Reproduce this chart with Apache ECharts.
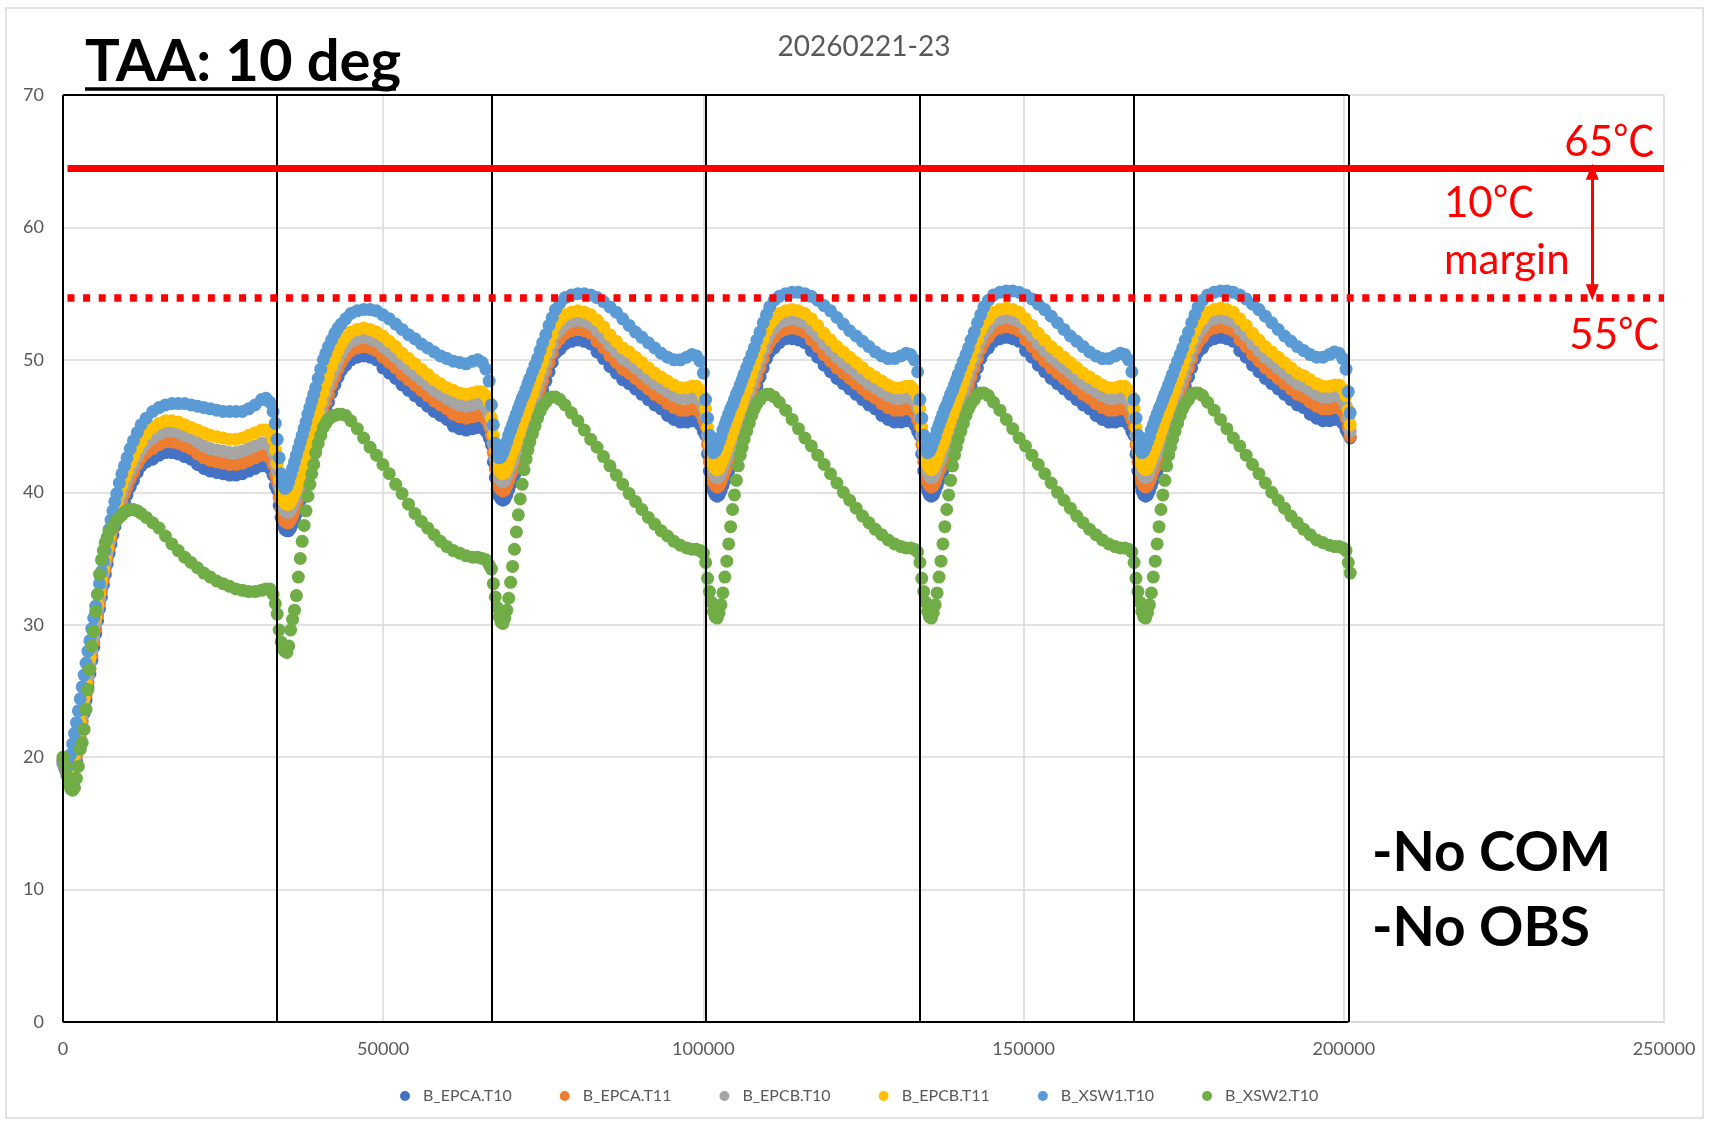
<!DOCTYPE html>
<html><head><meta charset="utf-8">
<script src="https://cdn.jsdelivr.net/npm/echarts@6.0.0/dist/echarts.min.js"></script>
<style>html,body{margin:0;padding:0;background:#fff}#chart{width:1709px;height:1124px}</style>
</head><body><div id="chart"></div>
<script>
// ---------------- data ----------------
const seriesNames = ['B_EPCA.T10','B_EPCA.T11','B_EPCB.T10','B_EPCB.T11','B_XSW1.T10','B_XSW2.T10'];
const seriesColors = ['#4472C4','#ED7D31','#A5A5A5','#FFC000','#5B9BD5','#70AD47'];
const xTicks = [0, 50000, 100000, 150000, 200000, 250000];
const yTicks = [0, 10, 20, 30, 40, 50, 60, 70];
// black cycle separators (time, s)
const boundaries = [0, 33450, 66900, 100350, 133800, 167250, 200700];
// sample times of the first cycle (absolute)
const tCycle1 = [0,300,600,900,1200,1500,1800,2100,2400,2700,3000,3300,3600,3900,4200,4500,4800,5100,5400,5700,6000,6300,6600,6900,7200,7500,7800,8100,8400,8800,9200,9600,10000,10500,11000,11600,12200,13000,14000,15000,16000,17000,18000,19000,20000,21000,22000,23000,24000,25000,26000,27000,28000,29000,30000,31000,31700,32300,32800,33150];
// sample times inside cycles 2..6 (relative to the cycle's separator)
const tRel = [0,300,600,900,1200,1500,1800,2100,2400,2700,3000,3300,3600,3900,4200,4500,4800,5100,5400,5700,6000,6400,6800,7200,7600,8000,8500,9000,9500,10000,10700,11500,12500,13500,14500,15500,16500,17500,18500,19500,20500,21500,22500,23500,24500,25500,26500,27500,28500,29500,30500,31300,32000,32600,33100];
const tTail = [200700, 201000];

const EPCA_T10 = [
19.5,19.1,18.8,18.7,18.9,19.0,19.3,19.7,20.5,21.4,22.3,23.3,24.3,25.3,26.3,27.3,28.3,29.3,30.3,31.2,32.1,33.0,33.8,34.6,35.4,36.1,36.8,37.4,38.0,38.4,38.7,39.3,39.8,40.4,40.9,41.5,42.0,42.3,42.5,42.8,43.0,43.0,42.9,42.7,42.5,42.1,41.8,41.6,41.5,41.4,41.3,41.3,41.4,41.6,41.8,42.0,42.0,41.8,41.3,40.5,
40.2,39.0,38.1,37.5,37.2,37.1,37.1,37.3,37.6,38.0,38.4,38.9,39.4,39.9,40.4,40.9,41.4,41.9,42.4,42.9,43.4,44.1,44.8,45.5,46.2,46.8,47.5,48.1,48.7,49.2,49.6,50.0,50.2,50.3,50.2,50.0,49.4,49.0,48.6,48.1,47.7,47.3,46.9,46.5,46.1,45.8,45.5,45.0,44.8,44.7,44.8,44.9,44.9,44.6,44.1,
43.6,42.3,41.1,40.2,39.7,39.5,39.4,39.5,39.8,40.2,40.6,40.9,41.3,41.7,42.2,42.6,43.1,43.5,43.9,44.3,44.8,45.3,45.9,46.5,47.1,47.7,48.4,49.1,49.8,50.5,50.8,51.2,51.4,51.5,51.4,51.2,50.6,50.1,49.5,49.0,48.5,48.2,47.8,47.4,47.0,46.6,46.3,45.8,45.5,45.3,45.3,45.4,45.4,45.1,44.6,
44.3,42.9,41.6,40.6,40.1,39.8,39.7,39.8,40.1,40.5,40.9,41.2,41.6,42.0,42.5,42.9,43.4,43.8,44.2,44.6,45.1,45.6,46.2,46.8,47.4,48.0,48.7,49.4,50.1,50.6,50.9,51.3,51.6,51.6,51.5,51.3,50.7,50.2,49.6,49.1,48.6,48.2,47.8,47.4,47.0,46.6,46.3,45.8,45.5,45.3,45.3,45.4,45.4,45.1,44.6,
44.3,42.9,41.6,40.6,40.1,39.8,39.7,39.8,40.1,40.5,40.9,41.2,41.6,42.0,42.5,42.9,43.4,43.8,44.2,44.6,45.1,45.6,46.2,46.8,47.4,48.0,48.7,49.4,50.1,50.6,50.9,51.4,51.6,51.7,51.6,51.4,50.7,50.2,49.6,49.1,48.6,48.2,47.8,47.4,47.0,46.6,46.3,45.8,45.5,45.3,45.3,45.4,45.4,45.1,44.6,
44.3,42.9,41.6,40.6,40.1,39.8,39.7,39.8,40.1,40.5,40.9,41.2,41.6,42.0,42.5,42.9,43.4,43.8,44.2,44.6,45.1,45.6,46.2,46.8,47.4,48.0,48.7,49.4,50.1,50.6,50.9,51.4,51.6,51.7,51.6,51.4,50.7,50.2,49.6,49.1,48.6,48.2,47.8,47.4,47.0,46.6,46.4,45.9,45.6,45.4,45.4,45.5,45.5,45.2,44.7,
44.4,44.1];

const EPCA_T11 = [
19.6,19.2,18.9,18.8,19.0,19.2,19.6,20.1,20.9,21.8,22.7,23.7,24.7,25.7,26.7,27.7,28.7,29.7,30.7,31.6,32.5,33.4,34.2,35.0,35.8,36.5,37.2,37.8,38.4,38.9,39.3,39.9,40.4,41.0,41.5,42.1,42.6,43.0,43.3,43.6,43.8,43.8,43.7,43.5,43.3,42.9,42.6,42.4,42.3,42.2,42.1,42.1,42.2,42.4,42.6,42.8,42.8,42.6,42.1,41.3,
40.8,39.6,38.7,38.1,37.8,37.7,37.7,37.9,38.2,38.6,39.0,39.5,40.0,40.5,41.0,41.5,42.0,42.5,43.0,43.5,44.0,44.7,45.4,46.1,46.8,47.4,48.1,48.7,49.3,49.8,50.3,50.7,50.9,51.0,50.9,50.7,50.2,49.8,49.4,48.9,48.5,48.1,47.7,47.3,46.9,46.6,46.3,45.9,45.7,45.6,45.7,45.8,45.8,45.5,45.0,
44.3,43.0,41.8,40.9,40.4,40.2,40.1,40.2,40.5,40.9,41.3,41.6,42.0,42.4,42.9,43.3,43.8,44.2,44.6,45.0,45.5,46.0,46.6,47.2,47.8,48.4,49.1,49.8,50.5,51.2,51.6,52.0,52.2,52.3,52.2,52.0,51.4,50.9,50.3,49.8,49.3,49.0,48.6,48.2,47.8,47.4,47.1,46.7,46.4,46.2,46.2,46.3,46.3,46.0,45.5,
45.0,43.6,42.3,41.3,40.8,40.5,40.4,40.5,40.8,41.2,41.6,41.9,42.3,42.7,43.2,43.6,44.1,44.5,44.9,45.3,45.8,46.3,46.9,47.5,48.1,48.7,49.4,50.1,50.8,51.3,51.7,52.1,52.3,52.4,52.3,52.1,51.5,51.0,50.4,49.9,49.4,49.0,48.6,48.2,47.8,47.4,47.1,46.7,46.4,46.2,46.2,46.3,46.3,46.0,45.5,
45.0,43.6,42.3,41.3,40.8,40.5,40.4,40.5,40.8,41.2,41.6,41.9,42.3,42.7,43.2,43.6,44.1,44.5,44.9,45.3,45.8,46.3,46.9,47.5,48.1,48.7,49.4,50.1,50.8,51.3,51.7,52.2,52.4,52.5,52.4,52.2,51.5,51.0,50.4,49.9,49.4,49.0,48.6,48.2,47.8,47.4,47.1,46.7,46.4,46.2,46.2,46.3,46.3,46.0,45.5,
45.0,43.6,42.3,41.3,40.8,40.5,40.4,40.5,40.8,41.2,41.6,41.9,42.3,42.7,43.2,43.6,44.1,44.5,44.9,45.3,45.8,46.3,46.9,47.5,48.1,48.7,49.4,50.1,50.8,51.3,51.7,52.2,52.4,52.5,52.4,52.2,51.5,51.0,50.4,49.9,49.4,49.0,48.6,48.2,47.8,47.4,47.2,46.8,46.5,46.3,46.3,46.4,46.4,46.1,45.6,
44.9,44.2];

const EPCB_T10 = [
19.7,19.3,19.0,18.9,19.1,19.4,19.9,20.5,21.3,22.2,23.1,24.1,25.1,26.1,27.1,28.1,29.1,30.1,31.1,32.0,32.9,33.8,34.6,35.4,36.2,36.9,37.6,38.2,38.8,39.4,39.9,40.5,41.0,41.6,42.1,42.7,43.2,43.7,44.1,44.4,44.6,44.6,44.5,44.3,44.1,43.8,43.5,43.3,43.2,43.1,43.0,43.0,43.1,43.3,43.5,43.7,43.7,43.5,43.0,42.2,
41.6,40.4,39.5,38.9,38.6,38.5,38.5,38.7,39.0,39.4,39.8,40.2,40.7,41.2,41.7,42.2,42.7,43.2,43.7,44.2,44.7,45.4,46.1,46.8,47.5,48.1,48.8,49.4,50.0,50.5,51.0,51.4,51.6,51.7,51.6,51.4,51.0,50.6,50.2,49.7,49.3,48.9,48.5,48.1,47.7,47.4,47.1,46.8,46.6,46.5,46.6,46.7,46.7,46.4,45.9,
45.0,43.7,42.5,41.6,41.1,40.9,40.8,40.9,41.2,41.6,42.0,42.3,42.7,43.1,43.6,44.0,44.5,44.9,45.3,45.7,46.2,46.7,47.3,47.9,48.5,49.1,49.8,50.5,51.2,51.9,52.3,52.7,52.9,53.0,52.9,52.7,52.2,51.7,51.1,50.6,50.1,49.8,49.4,49.0,48.6,48.2,47.9,47.6,47.3,47.1,47.1,47.2,47.2,46.9,46.4,
45.7,44.3,43.0,42.0,41.5,41.2,41.1,41.2,41.5,41.9,42.3,42.6,43.0,43.4,43.9,44.3,44.8,45.2,45.6,46.0,46.5,47.0,47.6,48.2,48.8,49.4,50.1,50.8,51.5,52.0,52.4,52.8,53.0,53.1,53.0,52.8,52.3,51.8,51.2,50.7,50.2,49.8,49.4,49.0,48.6,48.2,47.9,47.6,47.3,47.1,47.1,47.2,47.2,46.9,46.4,
45.7,44.3,43.0,42.0,41.5,41.2,41.1,41.2,41.5,41.9,42.3,42.6,43.0,43.4,43.9,44.3,44.8,45.2,45.6,46.0,46.5,47.0,47.6,48.2,48.8,49.4,50.1,50.8,51.5,52.0,52.4,52.9,53.1,53.2,53.1,52.9,52.3,51.8,51.2,50.7,50.2,49.8,49.4,49.0,48.6,48.2,47.9,47.6,47.3,47.1,47.1,47.2,47.2,46.9,46.4,
45.7,44.3,43.0,42.0,41.5,41.2,41.1,41.2,41.5,41.9,42.3,42.6,43.0,43.4,43.9,44.3,44.8,45.2,45.6,46.0,46.5,47.0,47.6,48.2,48.8,49.4,50.1,50.8,51.5,52.0,52.4,52.9,53.1,53.2,53.1,52.9,52.3,51.8,51.2,50.7,50.2,49.8,49.4,49.0,48.6,48.2,48.0,47.7,47.4,47.2,47.2,47.3,47.3,47.0,46.5,
45.6,44.6];

const EPCB_T11 = [
19.8,19.4,19.1,19.0,19.2,19.6,20.2,20.9,21.7,22.6,23.5,24.5,25.5,26.5,27.5,28.5,29.5,30.5,31.5,32.4,33.3,34.2,35.0,35.8,36.6,37.3,38.0,38.6,39.2,39.9,40.5,41.1,41.6,42.2,42.7,43.3,43.8,44.4,44.9,45.2,45.4,45.4,45.3,45.1,44.9,44.7,44.5,44.3,44.2,44.1,44.0,44.0,44.1,44.3,44.5,44.7,44.7,44.5,44.0,43.2,
42.2,41.0,40.1,39.5,39.2,39.1,39.1,39.3,39.6,40.0,40.4,40.9,41.4,41.9,42.4,42.9,43.4,43.9,44.4,44.9,45.4,46.1,46.8,47.5,48.2,48.8,49.5,50.1,50.7,51.2,51.7,52.1,52.3,52.4,52.3,52.1,51.8,51.4,51.0,50.5,50.1,49.7,49.3,48.9,48.5,48.2,47.9,47.7,47.5,47.4,47.5,47.6,47.6,47.3,46.8,
45.6,44.3,43.1,42.2,41.7,41.5,41.4,41.5,41.8,42.2,42.6,43.0,43.4,43.8,44.3,44.7,45.2,45.6,46.0,46.4,46.9,47.4,48.0,48.6,49.2,49.8,50.5,51.2,51.9,52.6,53.0,53.4,53.6,53.7,53.6,53.4,53.0,52.5,51.9,51.4,50.9,50.6,50.2,49.8,49.4,49.0,48.7,48.4,48.1,47.9,47.9,48.0,48.0,47.7,47.2,
46.3,44.9,43.6,42.6,42.1,41.8,41.7,41.8,42.1,42.5,42.9,43.3,43.7,44.1,44.6,45.0,45.5,45.9,46.3,46.7,47.2,47.7,48.3,48.9,49.5,50.1,50.8,51.5,52.2,52.7,53.1,53.5,53.7,53.8,53.7,53.5,53.1,52.6,52.0,51.5,51.0,50.6,50.2,49.8,49.4,49.0,48.7,48.4,48.1,47.9,47.9,48.0,48.0,47.7,47.2,
46.3,44.9,43.6,42.6,42.1,41.8,41.7,41.8,42.1,42.5,42.9,43.3,43.7,44.1,44.6,45.0,45.5,45.9,46.3,46.7,47.2,47.7,48.3,48.9,49.5,50.1,50.8,51.5,52.2,52.7,53.1,53.6,53.8,53.9,53.8,53.6,53.1,52.6,52.0,51.5,51.0,50.6,50.2,49.8,49.4,49.0,48.7,48.4,48.1,47.9,47.9,48.0,48.0,47.7,47.2,
46.3,44.9,43.6,42.6,42.1,41.8,41.7,41.8,42.1,42.5,42.9,43.3,43.7,44.1,44.6,45.0,45.5,45.9,46.3,46.7,47.2,47.7,48.3,48.9,49.5,50.1,50.8,51.5,52.2,52.7,53.1,53.6,53.8,53.9,53.8,53.6,53.1,52.6,52.0,51.5,51.0,50.6,50.2,49.8,49.4,49.0,48.8,48.5,48.2,48.0,48.0,48.1,48.1,47.8,47.3,
46.2,45.1];

const XSW1_T10 = [
19.8,19.3,19.2,19.5,20.2,21.0,21.8,22.6,23.5,24.4,25.3,26.2,27.1,28.0,28.8,29.7,30.5,31.4,32.3,33.1,34.0,34.8,35.6,36.4,37.2,37.9,38.6,39.3,39.9,40.7,41.4,42.0,42.6,43.3,43.9,44.5,45.1,45.6,46.1,46.4,46.6,46.7,46.7,46.7,46.6,46.5,46.4,46.3,46.2,46.1,46.1,46.1,46.1,46.3,46.6,47.0,47.1,46.8,46.1,45.2,
44.0,42.6,41.4,40.6,40.3,40.4,40.8,41.3,41.8,42.3,42.8,43.3,43.8,44.3,44.8,45.3,45.9,46.4,46.9,47.4,47.9,48.6,49.3,50.0,50.5,51.0,51.5,52.0,52.4,52.7,53.1,53.5,53.7,53.8,53.8,53.7,53.4,53.1,52.7,52.3,51.9,51.6,51.2,50.9,50.6,50.3,50.1,49.9,49.8,49.7,49.9,50.0,49.8,49.3,48.4,
46.6,45.1,43.7,42.9,42.6,42.7,43.0,43.4,43.8,44.3,44.7,45.1,45.5,45.9,46.3,46.7,47.1,47.4,47.8,48.2,48.6,49.1,49.6,50.1,50.7,51.3,51.9,52.6,53.2,53.8,54.3,54.7,54.9,55.0,55.0,54.9,54.7,54.4,54.0,53.6,53.1,52.6,52.1,51.7,51.3,50.9,50.5,50.2,50.0,50.0,50.2,50.4,50.3,49.9,49.0,
47.0,45.6,44.3,43.4,43.0,43.1,43.4,43.8,44.2,44.7,45.1,45.5,45.9,46.3,46.6,47.0,47.4,47.7,48.1,48.5,48.9,49.4,49.9,50.4,50.9,51.5,52.1,52.8,53.4,54.0,54.5,54.8,55.0,55.1,55.1,55.0,54.8,54.5,54.1,53.7,53.2,52.7,52.2,51.8,51.4,51.0,50.6,50.3,50.1,50.1,50.3,50.5,50.4,50.0,49.1,
47.0,45.6,44.3,43.4,43.0,43.1,43.4,43.8,44.2,44.7,45.1,45.5,45.9,46.3,46.6,47.0,47.4,47.7,48.1,48.5,48.9,49.4,49.9,50.4,50.9,51.5,52.1,52.8,53.4,54.0,54.5,54.9,55.1,55.2,55.2,55.1,54.9,54.6,54.2,53.8,53.3,52.8,52.3,51.8,51.4,51.0,50.6,50.3,50.1,50.1,50.3,50.5,50.4,50.0,49.1,
47.0,45.6,44.3,43.4,43.0,43.1,43.4,43.8,44.2,44.7,45.1,45.5,45.9,46.3,46.6,47.0,47.4,47.7,48.1,48.5,48.9,49.4,49.9,50.4,50.9,51.5,52.1,52.8,53.4,54.0,54.5,54.9,55.1,55.2,55.2,55.1,54.9,54.6,54.2,53.8,53.3,52.8,52.3,51.8,51.4,51.0,50.7,50.4,50.2,50.2,50.4,50.6,50.5,50.1,49.3,
47.6,46.0];

const XSW2_T10 = [
20.0,19.4,18.6,18.0,17.6,17.5,17.7,18.4,19.3,20.6,21.1,22.1,23.6,25.1,26.6,28.4,29.5,31.0,32.3,33.8,34.9,35.6,36.2,36.6,37.0,37.2,37.4,37.7,37.9,38.1,38.3,38.5,38.6,38.7,38.7,38.6,38.4,38.1,37.7,37.3,36.7,36.1,35.6,35.1,34.7,34.3,33.9,33.6,33.3,33.1,32.9,32.7,32.6,32.5,32.5,32.6,32.7,32.7,32.3,31.6,
30.8,29.6,28.7,28.2,28.0,27.9,28.4,29.6,30.4,31.1,32.2,33.6,35.0,36.3,37.5,38.6,39.7,40.6,41.4,42.1,43.0,43.7,44.3,44.9,45.2,45.5,45.7,45.8,45.9,45.9,45.8,45.4,44.8,44.1,43.4,42.8,42.1,41.4,40.6,39.9,39.1,38.4,37.8,37.3,36.8,36.3,35.9,35.6,35.4,35.2,35.1,35.1,35.0,34.9,34.5,
34.2,33.1,32.1,31.3,30.6,30.2,30.1,30.5,31.1,32.0,33.2,34.4,35.7,37.0,38.3,39.5,40.6,41.7,42.5,43.2,43.8,44.4,45.0,45.6,46.1,46.5,46.8,47.1,47.2,47.2,47.0,46.6,46.0,45.4,44.7,44.0,43.4,42.7,42.0,41.3,40.6,39.9,39.3,38.7,38.1,37.6,37.1,36.7,36.3,36.0,35.8,35.7,35.7,35.6,35.4,
34.7,33.5,32.5,31.7,31.0,30.6,30.5,30.9,31.5,32.4,33.6,34.8,36.1,37.4,38.7,39.8,40.9,42.0,42.8,43.4,44.0,44.6,45.2,45.8,46.3,46.7,47.0,47.3,47.4,47.4,47.2,46.8,46.2,45.5,44.8,44.1,43.5,42.8,42.1,41.4,40.7,40.0,39.4,38.8,38.2,37.7,37.2,36.8,36.4,36.1,35.9,35.8,35.8,35.7,35.5,
34.7,33.5,32.5,31.7,31.0,30.6,30.5,30.9,31.5,32.4,33.6,34.8,36.1,37.4,38.7,39.8,40.9,42.0,42.8,43.4,44.0,44.6,45.2,45.8,46.3,46.7,47.0,47.4,47.5,47.5,47.3,46.8,46.2,45.5,44.8,44.1,43.5,42.8,42.1,41.4,40.7,40.0,39.4,38.8,38.2,37.7,37.2,36.8,36.4,36.1,35.9,35.8,35.8,35.7,35.5,
34.7,33.5,32.5,31.7,31.0,30.6,30.5,30.9,31.5,32.4,33.6,34.8,36.1,37.4,38.7,39.8,40.9,42.0,42.8,43.4,44.0,44.6,45.2,45.8,46.3,46.7,47.0,47.4,47.5,47.5,47.3,46.8,46.2,45.5,44.8,44.1,43.5,42.8,42.1,41.4,40.7,40.0,39.4,38.8,38.2,37.7,37.2,36.8,36.4,36.2,36.0,35.9,35.9,35.8,35.6,
34.7,33.9];

// annotation levels (as drawn in the picture)
const limitHot = 64.5;     // solid red line ("65℃")
const limitMargin = 54.7;  // dotted red line ("55℃")
const arrowX = 238800;
const lineSpan = [700, 250000];

// ---------------- build ----------------
const T = tCycle1.slice();
for (let k = 1; k <= 5; k++) tRel.forEach(r => T.push(boundaries[k] + r));
tTail.forEach(t => T.push(t));
const valueArrays = [EPCA_T10, EPCA_T11, EPCB_T10, EPCB_T11, XSW1_T10, XSW2_T10];
valueArrays.forEach((a, i) => { if (a.length !== T.length) throw new Error(seriesNames[i] + ' has ' + a.length + ' values, times ' + T.length); });

const FONT = 'Lato, "Noto Sans CJK JP", sans-serif';
const chart = echarts.init(document.getElementById('chart'), null, {renderer: 'canvas'});

const dataSeries = valueArrays.map((vals, i) => ({
  name: seriesNames[i], type: 'scatter', symbol: 'circle', symbolSize: 13,
  itemStyle: {color: seriesColors[i], opacity: 1},
  data: T.map((t, j) => [t, vals[j]]), z: 2, silent: true
}));

const frameLines = boundaries.map(b => ({xAxis: b}));
frameLines.push([{coord: [boundaries[0], yTicks[yTicks.length - 1]]}, {coord: [boundaries[boundaries.length - 1], yTicks[yTicks.length - 1]]}]);
frameLines.push([{coord: [boundaries[0], 0]}, {coord: [boundaries[boundaries.length - 1], 0]}]);

const option = {
  animation: false,
  backgroundColor: '#ffffff',
  grid: {left: 63, right: 45, top: 95, bottom: 102, containLabel: false},
  xAxis: {
    type: 'value', min: xTicks[0], max: xTicks[xTicks.length - 1], interval: 50000,
    axisLine: {show: true, lineStyle: {color: '#d9d9d9', width: 2}},
    axisTick: {show: false},
    splitLine: {show: true, lineStyle: {color: '#d9d9d9', width: 1.5}},
    axisLabel: {fontFamily: FONT, fontSize: 18, color: '#595959', margin: 18, formatter: v => String(v)}
  },
  yAxis: {
    type: 'value', min: yTicks[0], max: yTicks[yTicks.length - 1], interval: 10,
    axisLine: {show: false}, axisTick: {show: false},
    splitLine: {show: true, lineStyle: {color: '#d9d9d9', width: 1.5}},
    axisLabel: {fontFamily: FONT, fontSize: 18, color: '#595959', margin: 19, formatter: v => String(v)}
  },
  legend: {
    data: seriesNames, top: 1083, left: 395, itemGap: 48, icon: 'circle',
    itemWidth: 10, itemHeight: 10,
    textStyle: {fontFamily: FONT, fontSize: 16, color: '#595959', padding: [0, 0, 0, 8]}
  },
  series: dataSeries.concat([
    {
      name: 'frame', type: 'line', data: [], clip: false, silent: true, z: 5,
      markLine: {silent: true, symbol: 'none', animation: false, label: {show: false},
        lineStyle: {color: '#000000', width: 2, type: 'solid'}, data: frameLines}
    },
    {
      name: 'limitHot', type: 'line', data: [], clip: false, silent: true, z: 6,
      markLine: {silent: true, symbol: 'none', animation: false, label: {show: false},
        lineStyle: {color: '#ff0000', width: 7, type: 'solid'},
        data: [[{coord: [lineSpan[0], limitHot]}, {coord: [lineSpan[1], limitHot]}]]}
    },
    {
      name: 'limitMargin', type: 'line', data: [], clip: false, silent: true, z: 6,
      markLine: {silent: true, symbol: 'none', animation: false, label: {show: false},
        lineStyle: {color: '#ff0000', width: 7.5, type: [7, 8.6], cap: 'butt'},
        data: [[{coord: [lineSpan[0], limitMargin]}, {coord: [lineSpan[1], limitMargin]}]]}
    },
    {
      name: 'arrow', type: 'line', data: [], clip: false, silent: true, z: 7,
      markLine: {silent: true, animation: false, label: {show: false},
        symbol: ['triangle', 'triangle'], symbolSize: [13, 16],
        lineStyle: {color: '#ff0000', width: 3, type: 'solid'},
        itemStyle: {color: '#ff0000'},
        data: [[{coord: [arrowX, limitHot - 0.3]}, {coord: [arrowX, limitMargin + 0.4]}]]}
    }
  ]),
  graphic: [
    {type: 'rect', z: -10, silent: true, shape: {x: 6, y: 8, width: 1697, height: 1110},
      style: {fill: 'none', stroke: '#d9d9d9', lineWidth: 1.5}},
    {type: 'text', x: 85, y: 62, silent: true,
      style: {text: 'TAA: 10 deg', font: 'bold 58px ' + FONT, fill: '#000', align: 'left', verticalAlign: 'middle'}},
    {type: 'line', silent: true, shape: {x1: 85, y1: 89, x2: 396, y2: 89}, style: {stroke: '#000', lineWidth: 3.5}},
    {type: 'text', x: 864, y: 47, silent: true,
      style: {text: '20260221-23', font: '28px ' + FONT, fill: '#595959', align: 'center', verticalAlign: 'middle'}},
    {type: 'text', x: 1655, y: 142, silent: true,
      style: {text: '65℃', font: '42px ' + FONT, fill: '#ff0000', align: 'right', verticalAlign: 'middle'}},
    {type: 'text', x: 1444, y: 203, silent: true,
      style: {text: '10℃', font: '42px ' + FONT, fill: '#ff0000', align: 'left', verticalAlign: 'middle'}},
    {type: 'text', x: 1444, y: 260, silent: true,
      style: {text: 'margin', font: '42px ' + FONT, fill: '#ff0000', align: 'left', verticalAlign: 'middle'}},
    {type: 'text', x: 1660, y: 335, silent: true,
      style: {text: '55℃', font: '42px ' + FONT, fill: '#ff0000', align: 'right', verticalAlign: 'middle'}},
    {type: 'text', x: 1372, y: 853, silent: true,
      style: {text: '-No COM', font: 'bold 55px ' + FONT, fill: '#000', align: 'left', verticalAlign: 'middle'}},
    {type: 'text', x: 1372, y: 928, silent: true,
      style: {text: '-No OBS', font: 'bold 55px ' + FONT, fill: '#000', align: 'left', verticalAlign: 'middle'}}
  ]
};
chart.setOption(option);
</script>
</body></html>
